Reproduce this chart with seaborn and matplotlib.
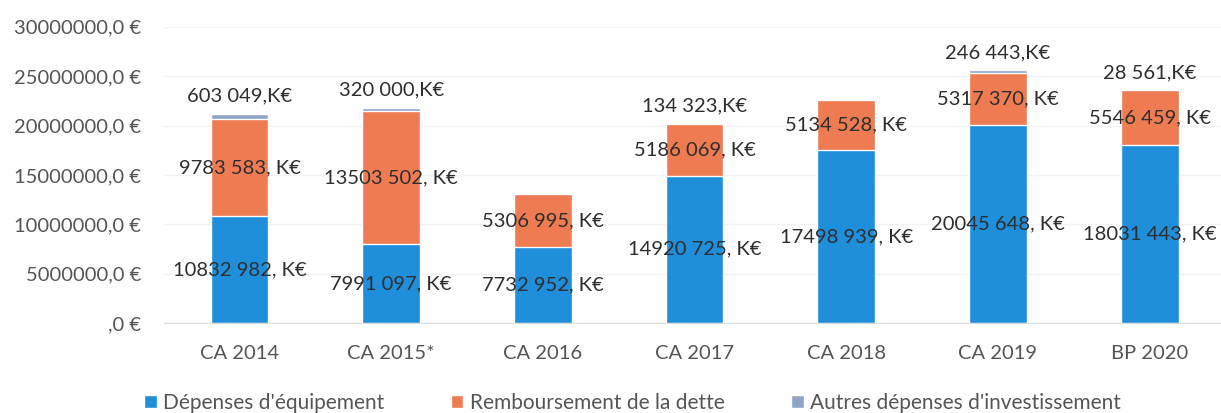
import numpy as np
import pandas as pd
import matplotlib
matplotlib.use("Agg")
import matplotlib.pyplot as plt
import seaborn as sns
from matplotlib.ticker import FuncFormatter
from matplotlib.patches import Patch

# values (euros)
categories = ["CA 2014", "CA 2015*", "CA 2016", "CA 2017", "CA 2018", "CA 2019", "BP 2020"]
depenses = [10832982, 7991097, 7732952, 14920725, 17498939, 20045648, 18031443]
remboursement = [9783583, 13503502, 5306995, 5186069, 5134528, 5317370, 5546459]
autres = [603049, 320000, 0, 134323, 0, 246443, 28561]

series_names = ["Dépenses d'équipement", "Remboursement de la dette", "Autres dépenses d'investissement"]
colors = ["#1f8edb", "#ee7b52", "#8fa5c6"]

df = pd.DataFrame({"cat": categories, "dep": depenses, "remb": remboursement, "autres": autres})
df["lvl1"] = df["dep"]
df["lvl2"] = df["dep"] + df["remb"]
df["lvl3"] = df["lvl2"] + df["autres"]

sns.set_style("white")
plt.rcParams["font.family"] = ["Lato", "DejaVu Sans"]

fig = plt.figure(figsize=(12.21, 4.13), dpi=100)
ax = fig.add_axes([0.134, 0.218, 0.866, 0.717])

# stacked bars: draw totals first, then overlay lower layers
sns.barplot(data=df, x="cat", y="lvl3", color=colors[2], width=0.38, ax=ax, saturation=1)
sns.barplot(data=df, x="cat", y="lvl2", color=colors[1], width=0.38, ax=ax, saturation=1)
sns.barplot(data=df, x="cat", y="lvl1", color=colors[0], width=0.38, ax=ax, saturation=1)

def fmt_val(v):
    v = int(v)
    return f"{v // 1000} {v % 1000:03d}"

txt_col = "#2e2e2e"
fs = 14.5
for i, row in df.iterrows():
    ax.text(i, row["dep"] / 2, fmt_val(row["dep"]) + ", K€", ha="center", va="center",
            fontsize=fs, color=txt_col)
    ax.text(i, row["dep"] + row["remb"] / 2, fmt_val(row["remb"]) + ", K€", ha="center",
            va="center", fontsize=fs, color=txt_col)
    if row["autres"] > 0:
        ax.text(i, row["lvl3"] + 900000, fmt_val(row["autres"]) + ",K€", ha="center",
                va="bottom", fontsize=fs, color=txt_col)

ax.set_ylim(0, 30000000)
ax.set_xlim(-0.5, 6.47)
ax.set_yticks(np.arange(0, 30000001, 5000000))

def yfmt(v, pos):
    return ",0 €" if v == 0 else f"{int(v)},0 €"

ax.yaxis.set_major_formatter(FuncFormatter(yfmt))
ax.grid(axis="y", color="#f2f2f2", linewidth=1)
ax.set_axisbelow(True)
for s in ["top", "right", "left"]:
    ax.spines[s].set_visible(False)
ax.spines["bottom"].set_color("#dcdcdc")
ax.tick_params(axis="both", length=0, labelsize=14.5, colors="#555555")
ax.tick_params(axis="y", pad=16)
ax.tick_params(axis="x", pad=16)
ax.set_xlabel("")
ax.set_ylabel("")

handles = [Patch(facecolor=c, label=n) for c, n in zip(colors, series_names)]
fig.legend(handles=handles, loc="lower center", bbox_to_anchor=(0.518, -0.045), ncol=3,
           frameon=False, fontsize=15, handlelength=0.6, handleheight=0.6,
           columnspacing=3.2, handletextpad=0.3, labelcolor="#555555")

fig.savefig("out.png", dpi=100)
